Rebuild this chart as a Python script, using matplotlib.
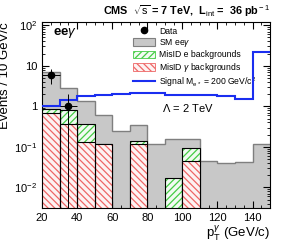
import numpy as np
import matplotlib
matplotlib.use("Agg")
import matplotlib.pyplot as plt
from matplotlib.patches import Patch
from matplotlib.lines import Line2D

plt.rcParams['font.family'] = ['Liberation Sans', 'DejaVu Sans']
plt.rcParams['mathtext.fontset'] = 'custom'
plt.rcParams['mathtext.rm'] = 'Liberation Sans'
plt.rcParams['mathtext.it'] = 'Liberation Sans:italic'
plt.rcParams['mathtext.bf'] = 'Liberation Sans:bold'
plt.rcParams['hatch.linewidth'] = 0.9

# photon pT bins, 10 GeV wide
edges = np.arange(20, 151, 10)

# total SM expectation (grey)
sm_total = [7.1, 2.9, 1.37, 0.6, 0.24, 0.34, 0.118, 0.16, 0.16, 0.044, 0.041, 0.043, 0.116]
# misID e + misID gamma (green, stacked top)
misid_e = [0.87, 0.81, 0.36, 0.115, 0, 0.133, 0, 0.0142, 0.091, 0, 0, 0, 0]
# misID gamma only (red)
misid_g = [0.67, 0.36, 0.13, 0.115, 0, 0.116, 0, 0, 0.041, 0, 0, 0, 0]
# signal M_e* = 200 GeV
signal = [1.0, 1.45, 1.82, 1.85, 2.0, 2.15, 2.1, 1.9, 1.88, 1.85, 1.8, 1.48, 22]

# data points
data_x = [25, 35]
data_y = [6, 1]

ymin, ymax = 3.1e-3, 120
green = '#44cc44'
red = '#ee6666'

fig = plt.figure(figsize=(2.84, 2.45), dpi=100)
ax = fig.add_axes([0.148, 0.151, 0.803, 0.759])
ax.set_yscale('log')

centers = (edges[:-1] + edges[1:]) / 2
widths = np.diff(edges)

# SM grey histogram
ax.stairs(sm_total, edges, fill=True, baseline=ymin, color='#c8c8c8', zorder=1)
ax.stairs(sm_total, edges, baseline=None, color='#7f7f7f', lw=1.0, zorder=2)

# misID e (green hatch)
e = np.array(misid_e)
m = e > 0
ax.bar(centers[m], e[m], width=widths[m], bottom=ymin, facecolor='#f2fbf2',
       edgecolor=green, hatch='/////', lw=0.5, zorder=3)
ax.bar(centers[m], e[m], width=widths[m], bottom=ymin, fill=False,
       edgecolor='black', lw=0.8, zorder=4)

# misID gamma (red hatch)
g = np.array(misid_g)
m = g > 0
ax.bar(centers[m], g[m], width=widths[m], bottom=ymin, facecolor='#fdf2f2',
       edgecolor=red, hatch='\\\\\\\\\\', lw=0.5, zorder=5)
ax.bar(centers[m], g[m], width=widths[m], bottom=ymin, fill=False,
       edgecolor='black', lw=0.8, zorder=6)

# signal line
ax.stairs(signal, edges, baseline=None, color='#1a2ef0', lw=1.5, zorder=7)

# data
dy = np.sqrt(data_y)
lo = np.maximum(np.array(data_y) - dy, ymin * 0.5)
ax.errorbar(data_x, data_y, xerr=5, yerr=[np.array(data_y) - lo, dy],
            fmt='o', color='black', ms=4.5, elinewidth=0.7, capsize=0, zorder=8)

ax.set_xlim(20, 150)
ax.set_ylim(ymin, ymax)
ax.set_xticks([20, 40, 60, 80, 100, 120, 140])
ax.set_xticks(np.arange(20, 151, 5), minor=True)
ax.tick_params(which='both', direction='in', top=True, right=True, labelsize=8)
ax.tick_params(which='major', length=5)
ax.tick_params(which='minor', length=2.5)
ax.set_yticks([1e-2, 1e-1, 1, 10, 100])
ax.set_yticklabels(['10$^{-2}$', '10$^{-1}$', '1', '10', '10$^{2}$'])
for s in ax.spines.values():
    s.set_linewidth(0.8)

ax.set_ylabel('Events / 10 GeV/c', fontsize=9.5, loc='top')
ax.yaxis.set_label_coords(-0.135, 1.0)
ax.set_xlabel(r'p$_{\rm T}^{\gamma}$ (GeV/c)', fontsize=9.5, loc='right', labelpad=1)

fig.text(0.951, 0.955, r'CMS  $\sqrt{\rm s}$ = 7 TeV,  L$_{\rm int}$ =  36 pb$^{\rm -1}$',
         ha='right', va='center', fontsize=7.8, fontweight='bold')
ax.text(0.05, 0.94, r'ee$\gamma$', transform=ax.transAxes, fontsize=9.5,
        fontweight='bold', va='center')
ax.text(0.526, 0.537, r'$\Lambda$ = 2 TeV', transform=ax.transAxes, fontsize=8,
        va='center')

handles = [
    Line2D([], [], marker='o', color='black', ls='none', ms=4.5),
    Patch(facecolor='#c8c8c8', edgecolor='#7f7f7f', lw=0.8),
    Patch(facecolor='#f2fbf2', edgecolor=green, hatch='/////', lw=0.6),
    Patch(facecolor='#fdf2f2', edgecolor=red, hatch='\\\\\\\\\\', lw=0.6),
    Line2D([], [], color='#1a2ef0', lw=1.5),
]
labels = ['Data', r'SM ee$\gamma$', 'MisID e backgrounds',
          r'MisID $\gamma$ backgrounds', r'Signal M$_{\rm e*}$ = 200 GeV/c$^{2}$']
ax.legend(handles, labels, loc='upper left', bbox_to_anchor=(0.38, 1.0),
          frameon=False, fontsize=6.2, handlelength=2.5, handleheight=1.0,
          labelspacing=0.15, handletextpad=0.5, borderaxespad=0.15)

fig.savefig('out.png', dpi=100)
